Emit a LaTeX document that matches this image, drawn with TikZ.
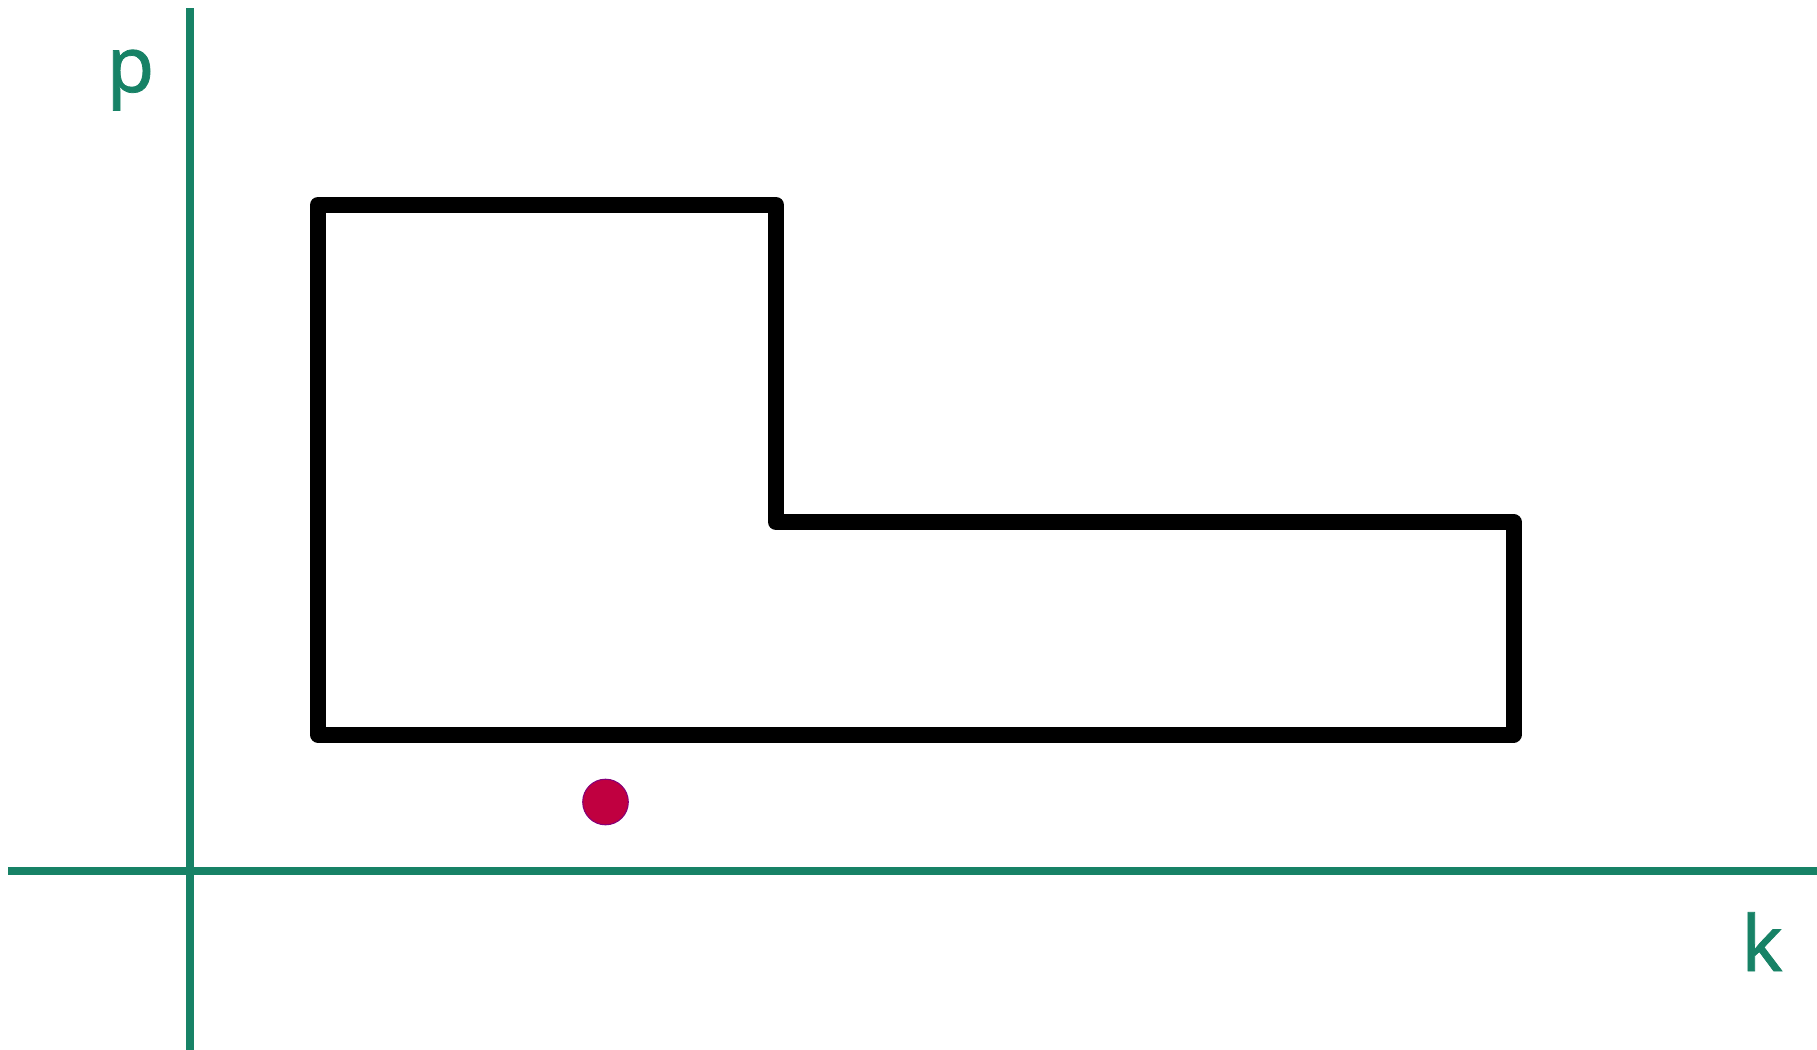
\documentclass[tikz,border=0pt]{standalone}
\usepackage{fontspec}
\setmainfont{Noto Sans}
\newfontfamily\axisfont[FakeBold=1]{Noto Sans}
\usetikzlibrary{positioning}
\definecolor{axisgreen}{RGB}{23,130,102}
\definecolor{dotred}{RGB}{192,0,64}

\begin{document}
\begin{tikzpicture}[
  x=0.02cm, y=-0.02cm,
  axis/.style={draw=axisgreen, line width=4.55pt},
  lbl/.style={text=axisgreen, inner sep=0pt, anchor=base, font=\axisfont\fontsize{44}{52}\selectfont},
  region/.style={draw=black, line width=9.1pt, line join=round},
  pt/.style={circle, fill=dotred, draw=dotred!70!blue, line width=0.6pt,
             minimum size=45.6*0.02cm, inner sep=0pt}
]
\useasboundingbox (0,0) rectangle (1817,1050);
% --- axes ---
\coordinate (ytop) at (190,8);
\coordinate (ybot) at (190,1050);
\coordinate (xleft) at (8,870.5);
\coordinate (xright) at (1817,870.5);
\draw[axis] (ybot) -- (ytop);
\draw[axis] (xleft) -- (xright);
\node[lbl] (plabel) at (130.5,92) {p};
\node[lbl] (klabel) at (1762,971) {k};
% --- region ---
\draw[region] (318,205) -- (776,205) -- (776,522) -- (1513.5,522)
  -- (1513.5,734.5) -- (318,734.5) -- cycle;
% --- point ---
\node[pt] (dot) at (605.5,802) {};
\end{tikzpicture}
\end{document}
